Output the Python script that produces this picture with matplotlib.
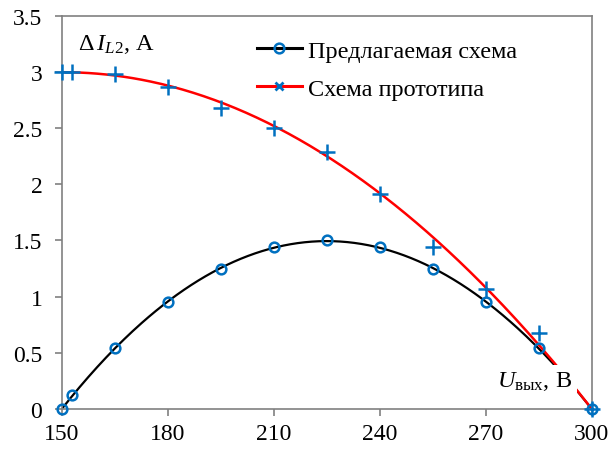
import matplotlib
matplotlib.use("Agg")
import matplotlib.pyplot as plt
import numpy as np
from matplotlib.lines import Line2D

plt.rcParams.update(
    {
        "font.family": ["Liberation Serif", "DejaVu Serif"],
        "mathtext.fontset": "custom",
        "mathtext.rm": "Liberation Serif",
        "mathtext.it": "Liberation Serif:italic",
        "font.size": 17,
    }
)

# measured points
u_new = [150, 153, 165, 180, 195, 210, 225, 240, 255, 270, 285, 300]
i_new = [0.0, 0.12, 0.54, 0.95, 1.25, 1.44, 1.50, 1.44, 1.25, 0.95, 0.54, 0.0]

u_proto = [150, 153, 165, 180, 195, 210, 225, 240, 255, 270, 285, 300]
i_proto = [3.0, 3.0, 2.98, 2.87, 2.68, 2.50, 2.29, 1.91, 1.44, 1.07, 0.68, 0.0]

# trend line of the prototype
u_proto_line = [150, 165, 180, 195, 210, 225, 240, 255, 270, 285, 300]
i_proto_line = [3.0, 2.97, 2.88, 2.72, 2.52, 2.26, 1.92, 1.53, 1.08, 0.57, 0.0]

x_ticks = [150, 180, 210, 240, 270, 300]
y_ticks = [0, 0.5, 1, 1.5, 2, 2.5, 3, 3.5]
y_tick_labels = ["0", "0.5", "1", "1.5", "2", "2.5", "3", "3.5"]

BLUE = "#0070C0"
GRID = "#808080"

fig = plt.figure(figsize=(6.12, 4.56), dpi=100)
ax = fig.add_axes([0.101, 0.101, 0.866, 0.862])

grid_u = np.linspace(150, 300, 300)
black_fit = np.polyfit(u_new, i_new, 2)
red_fit = np.polyfit(u_proto_line, i_proto_line, 2)

ax.plot(grid_u, np.polyval(black_fit, grid_u), color="black", lw=1.6, zorder=2)
ax.plot(grid_u, np.polyval(red_fit, grid_u), color="red", lw=1.8, zorder=2)

ax.plot(u_new, i_new, ls="none", marker="o", ms=7, mfc="none", mec=BLUE,
        mew=1.8, zorder=4, clip_on=False)
ax.plot(u_proto, i_proto, ls="none", marker="+", ms=11, mec=BLUE,
        mew=1.8, zorder=4, clip_on=False)

ax.set_xlim(150, 300)
ax.set_ylim(0, 3.5)
ax.set_xticks(x_ticks)
ax.set_yticks(y_ticks)
ax.set_yticklabels(y_tick_labels)
for sp in ax.spines.values():
    sp.set_color(GRID)
    sp.set_linewidth(1.2)
ax.tick_params(direction="out", length=5, width=1.2, color=GRID, labelsize=17)
ax.tick_params(axis="y", pad=9)
ax.tick_params(axis="x", pad=5)

ax.text(154.5, 3.25, r"$\Delta\,\mathit{I}_{\mathit{L2}}$, A", fontsize=17.5,
        ha="left", va="center")
ax.text(294.5, 0.25, r"$\mathit{U}_{\mathrm{вых}}$, В", fontsize=17.5,
        ha="right", va="center", zorder=3,
        bbox=dict(facecolor="white", edgecolor="none", pad=3))

handles = [
    Line2D([], [], color="black", lw=2.2, marker="o", ms=7, mfc="none",
           mec=BLUE, mew=1.8),
    Line2D([], [], color="red", lw=2.2, marker="x", ms=6, mec=BLUE, mew=2),
]
ax.legend(handles, ["Предлагаемая схема", "Схема прототипа"],
          loc="upper left", bbox_to_anchor=(0.327, 0.995), frameon=False,
          fontsize=17.5, handlelength=1.85, handletextpad=0.25,
          labelspacing=0.65, borderaxespad=0.5)

fig.savefig("out.png", dpi=100)
